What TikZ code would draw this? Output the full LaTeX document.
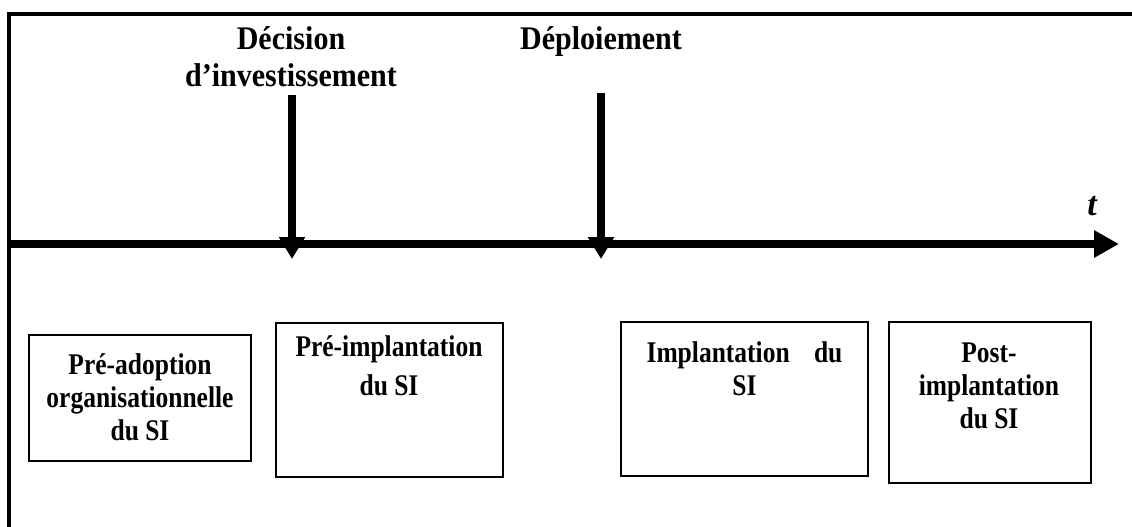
\documentclass[tikz,border=0pt]{standalone}
\usepackage{fontspec}
\setmainfont{Liberation Serif}
\newfontfamily\boxfont[FakeStretch=0.85]{Liberation Serif}
\newfontfamily\headfont[FakeStretch=0.91]{Liberation Serif}
\usetikzlibrary{arrows.meta}
\begin{document}
\begin{tikzpicture}[x=1pt,y=-1pt,
  phase/.style={draw, line width=1.6pt, inner sep=0pt},
  lbl/.style={font=\boxfont\bfseries\fontsize{30}{33}\selectfont, align=center, anchor=base, inner sep=0pt},
  head/.style={font=\headfont\bfseries\fontsize{33}{36}\selectfont, align=center, anchor=base, inner sep=0pt},
  evt/.style={line width=8pt, -{Triangle[width=25pt,length=22pt]}},
]
\useasboundingbox (0,0) rectangle (1132,527);
\fill[white] (0,0) rectangle (1132,527);
% frame
\coordinate (fa) at (9,527);
\coordinate (fb) at (9,14.5);
\coordinate (fc) at (1132,14.5);
\draw[line width=4pt] (fa) -- (fb) -- (fc);
% timeline
\coordinate (t0) at (9,244);
\coordinate (t1) at (1119,244);
\draw[line width=8pt, -{Triangle[width=26pt,length=25pt]}] (t0) -- (t1);
\node[font=\bfseries\itshape\fontsize{34}{36}\selectfont, anchor=base, inner sep=0pt] (tl) at (1092,215) {t};
% events
\coordinate (d0) at (292,95);
\coordinate (d1) at (292,259);
\draw[evt] (d0) -- (d1);
\coordinate (e0) at (601,93);
\coordinate (e1) at (601,259);
\draw[evt] (e0) -- (e1);
\node[head] (hd) at (291,86) {Décision\\d’investissement};
\node[head] (he) at (601,50) {Déploiement};
% phases
\node[phase, minimum width=222pt, minimum height=126pt] (b1) at (140,398) {};
\node[phase, minimum width=227pt, minimum height=154pt] (b2) at (389.5,400) {};
\node[phase, minimum width=247pt, minimum height=154pt] (b3) at (744.5,399) {};
\node[phase, minimum width=202pt, minimum height=161pt] (b4) at (990,402.5) {};
\node[lbl] (l1) at (140,440) {Pré-adoption\\organisationnelle\\du SI};
\node[lbl, font=\boxfont\bfseries\fontsize{30}{39}\selectfont] (l2) at (389,395) {Pré-implantation\\du SI};
\node[lbl] (l3) at (744.5,395) {Implantation\hspace{18pt} du\\SI};
\node[lbl] (l4) at (989,428) {Post-\\implantation\\du SI};
\end{tikzpicture}
\end{document}
